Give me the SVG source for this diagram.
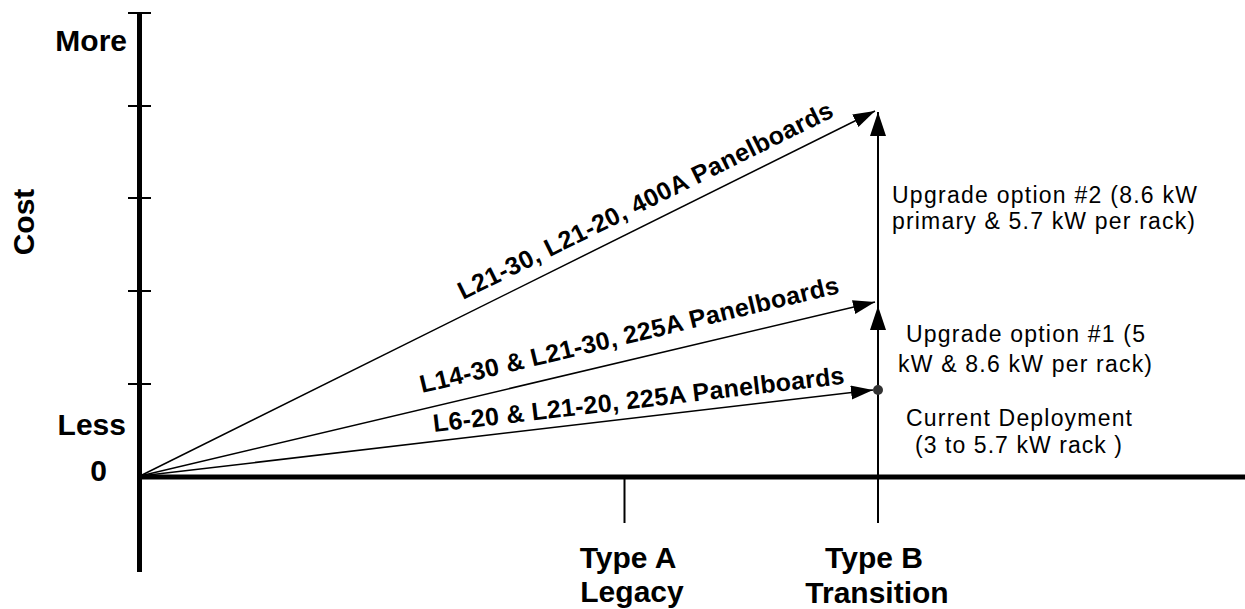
<svg xmlns="http://www.w3.org/2000/svg" width="1245" height="609" viewBox="0 0 1245 609">
<style>
.ax{stroke:#000;stroke-width:5;fill:none}
.tk{stroke:#000;stroke-width:2;fill:none}
.cn{stroke:#000;stroke-width:1.5;fill:none}
.vc{stroke:#000;stroke-width:2;fill:none}
.bl{font-family:"Liberation Sans",Arial,sans-serif;font-weight:bold;font-size:30px;fill:#000}
.dl{font-family:"Liberation Sans",Arial,sans-serif;font-weight:bold;font-size:25px;fill:#000}
.rg{font-family:"Liberation Sans",Arial,sans-serif;font-size:23px;fill:#000}
</style>
<defs>
<marker id="ah" markerUnits="userSpaceOnUse" markerWidth="24" markerHeight="16" refX="22" refY="7" orient="auto" viewBox="0 0 24 16"><path d="M0,0 L22,7 L0,14 z" fill="#000"/></marker>
<marker id="ahv" markerUnits="userSpaceOnUse" markerWidth="26" markerHeight="18" refX="24" refY="8" orient="auto" viewBox="0 0 26 18"><path d="M0,0 L24,8 L0,16 z" fill="#000"/></marker>
</defs>
<g id="axes">
<line class="ax" x1="139.5" y1="12" x2="139.5" y2="572"/>
<line class="ax" x1="137" y1="477" x2="1245" y2="477"/>
<line class="tk" x1="128" y1="13" x2="151" y2="13"/>
<line class="tk" x1="128" y1="106" x2="151" y2="106"/>
<line class="tk" x1="128" y1="198" x2="151" y2="198"/>
<line class="tk" x1="128" y1="291" x2="151" y2="291"/>
<line class="tk" x1="128" y1="384" x2="151" y2="384"/>
<line class="tk" x1="624.5" y1="477" x2="624.5" y2="523"/>
<line class="vc" x1="878" y1="390" x2="878" y2="523"/>
<text class="bl" x="127" y="51" text-anchor="end">More</text>
<text class="bl" x="126" y="435" text-anchor="end">Less</text>
<text class="bl" x="107" y="481" text-anchor="end">0</text>
<text class="bl" transform="translate(34,222) rotate(-90)" text-anchor="middle">Cost</text>
<text class="bl" x="628" y="568" text-anchor="middle">Type A</text>
<text class="bl" x="632" y="602" text-anchor="middle">Legacy</text>
<text class="bl" x="874" y="568" text-anchor="middle">Type B</text>
<text class="bl" x="877" y="603" text-anchor="middle">Transition</text>
</g>
<g id="connectors">
<line class="cn" x1="140" y1="476" x2="875" y2="111" marker-end="url(#ah)"/>
<line class="cn" x1="140" y1="476" x2="875" y2="302" marker-end="url(#ah)"/>
<line class="cn" x1="140" y1="476" x2="873" y2="390" marker-end="url(#ah)"/>
<line class="vc" x1="878" y1="390" x2="878" y2="306" marker-end="url(#ahv)"/>
<line class="vc" x1="878" y1="306" x2="878" y2="112" marker-end="url(#ahv)"/>
</g>
<g id="label-400A">
<text class="dl" transform="translate(463,300) rotate(-26.3)" textLength="415" lengthAdjust="spacing">L21-30, L21-20, 400A Panelboards</text>
</g>
<g id="label-225A-30">
<text class="dl" transform="translate(422,393) rotate(-13.45)" textLength="430" lengthAdjust="spacing">L14-30 &amp; L21-30, 225A Panelboards</text>
</g>
<g id="label-225A-20">
<text class="dl" transform="translate(434,432) rotate(-6.7)" textLength="414" lengthAdjust="spacing">L6-20 &amp; L21-20, 225A Panelboards</text>
</g>
<g id="current-deployment">
<circle cx="878" cy="390" r="5" fill="#333"/>
<text class="rg" x="906" y="426" textLength="226" lengthAdjust="spacing">Current Deployment</text>
<text class="rg" x="915" y="453" textLength="207" lengthAdjust="spacing">(3 to 5.7 kW rack )</text>
</g>
<g id="upgrade-1">
<text class="rg" x="906" y="342" textLength="239" lengthAdjust="spacing">Upgrade option #1  (5</text>
<text class="rg" x="898" y="372" textLength="254" lengthAdjust="spacing">kW &amp; 8.6 kW per rack)</text>
</g>
<g id="upgrade-2">
<text class="rg" x="892" y="203" textLength="305" lengthAdjust="spacing">Upgrade option #2 (8.6 kW</text>
<text class="rg" x="892" y="229" textLength="303" lengthAdjust="spacing">primary &amp; 5.7 kW per rack)</text>
</g>
</svg>
